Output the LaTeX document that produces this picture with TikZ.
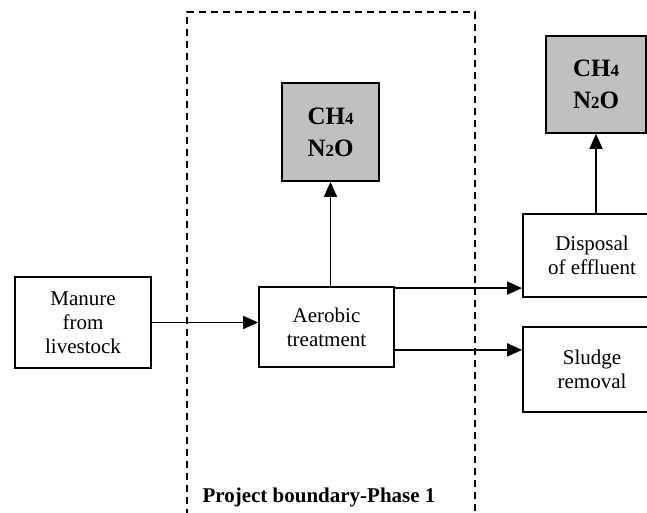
\documentclass[tikz,border=0pt]{standalone}
\usepackage{fontspec}
\setmainfont{Liberation Serif}
\usepackage{xcolor}
\usetikzlibrary{arrows.meta,positioning,calc}
\definecolor{gasgray}{RGB}{192,192,192}
\newcommand{\gastext}{CH{\fontsize{17}{17}\selectfont 4}\\
  N{\fontsize{17}{17}\selectfont 2}O}

\begin{document}
\begin{tikzpicture}[x=1pt,y=-1pt,
    every node/.style={font=\fontsize{21}{24}\selectfont},
    stage/.style={draw,line width=1.8pt,align=center,inner sep=0pt},
    gas/.style={stage,fill=gasgray,font=\fontsize{25}{32}\selectfont\bfseries},
    flow/.style={line width=1.6pt,-{Triangle[length=15pt,width=13pt]}},
    boundary/.style={line width=1.7pt,dash pattern=on 7pt off 5pt}]
\useasboundingbox (0,0) rectangle (647,513);
\clip (0,0) rectangle (647,513);
% project boundary
\draw[boundary] (187,540) -- (187,12) -- (475,12) -- (475,540);
\node[anchor=west,font=\fontsize{21}{24}\selectfont\bfseries] (blabel)
  at (199,497) {Project boundary-Phase 1};
% boxes
\node[stage,minimum width=136pt,minimum height=91pt] (manure)
  at (83,322.5) {Manure\\from\\livestock};
\node[stage,minimum width=135pt,minimum height=80pt] (aerobic)
  at (326.5,327) {Aerobic\\treatment};
\node[gas,minimum width=97pt,minimum height=98pt] (gasa)
  at (330.5,132) {\gastext};
\node[stage,minimum width=138pt,minimum height=83pt] (disposal)
  at (592,255.5) {Disposal\\of effluent};
\node[stage,minimum width=138pt,minimum height=85pt] (sludge)
  at (592,369.5) {Sludge\\removal};
\node[gas,minimum width=100pt,minimum height=97pt] (gasb)
  at (596,84.5) {\gastext};
% arrows
\coordinate (up) at ([yshift=-2pt]aerobic.north east);
\coordinate (down) at ([yshift=18pt]aerobic.south east);
\draw[flow] (manure.east) -- (manure.east -| aerobic.west);
\draw[flow] (aerobic.north -| gasa.south) -- (gasa.south);
\draw[flow] (up) -- (up -| disposal.west);
\draw[flow] (down) -- (down -| sludge.west);
\draw[flow] (disposal.north -| gasb.south) -- (gasb.south);
\end{tikzpicture}
\end{document}
